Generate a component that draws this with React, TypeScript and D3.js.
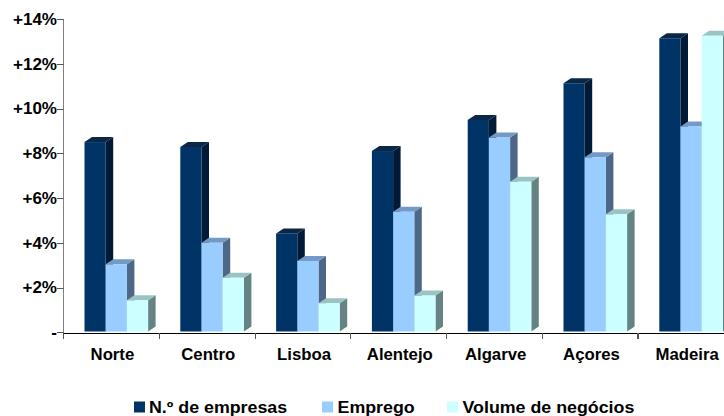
import React from "react";
import * as d3 from "d3";

const categories = ["Norte", "Centro", "Lisboa", "Alentejo", "Algarve", "Açores", "Madeira"];
const empresas = [8.5, 8.28, 4.42, 8.1, 9.49, 11.13, 13.14];
const emprego = [3.04, 4.0, 3.19, 5.39, 8.7, 7.82, 9.2];
const volume = [1.43, 2.44, 1.3, 1.64, 6.73, 5.27, 13.25];
const yTicks = [0, 2, 4, 6, 8, 10, 12, 14];
const seriesNames = ["N.º de empresas", "Emprego", "Volume de negócios"];

const W = 724;
const H = 416;
const FONT = "'Liberation Sans', Arial, sans-serif";

const colors = [
  { front: "#003366", side: "#011a35", top: "#0b2747" },
  { front: "#99ccff", side: "#4e6787", top: "#7399c6" },
  { front: "#ccffff", side: "#658383", top: "#9ac3c3" },
];

export default function App() {
  const y = d3.scaleLinear().domain([0, 14]).range([332.3, 19]);
  const x = d3.scaleBand<string>().domain(categories).range([63, 63 + 7 * 95.8]);
  const barOffset = 21.5;
  const barW = 21.2;
  const dx = 7.5;
  const dy = 5;
  const base = y(0) - 0.8;
  const series = [empresas, emprego, volume];

  const bars: JSX.Element[] = [];
  categories.forEach((c, ci) => {
    series.forEach((s, si) => {
      const x0 = (x(c) as number) + barOffset + si * barW;
      const x1 = x0 + barW;
      const yt = y(s[ci]);
      const col = colors[si];
      bars.push(
        <g key={`${ci}-${si}`}>
          <polygon
            points={`${x1},${yt} ${x1 + dx},${yt - dy} ${x1 + dx},${base - dy} ${x1},${base}`}
            fill={col.side}
          />
          <polygon
            points={`${x0},${yt} ${x0 + dx},${yt - dy} ${x1 + dx},${yt - dy} ${x1},${yt}`}
            fill={col.top}
          />
          <rect x={x0} y={yt} width={barW} height={base - yt} fill={col.front} />
        </g>
      );
    });
  });

  const legendItems = [
    { sq: 134, tx: 149 },
    { sq: 322, tx: 337.5 },
    { sq: 447, tx: 462.5 },
  ];

  return (
    <svg width={W} height={H} style={{ position: "absolute", left: 0, top: 0, background: "#fff" }}>
      <rect x={0} y={0} width={W} height={H} fill="#fff" />
      {bars}
      {/* y axis */}
      <line x1={63.5} x2={63.5} y1={19} y2={333} stroke="#808080" strokeWidth={1} />
      {yTicks.map((t) => (
        <g key={t}>
          <line x1={57} x2={63.5} y1={Math.round(y(t)) + 0.5} y2={Math.round(y(t)) + 0.5} stroke="#555" />
          <text
            transform={`translate(57,${y(t) + 5.8}) scale(1.066,1)`}
            textAnchor="end"
            fontFamily={FONT}
            fontWeight="bold"
            fontSize={16}
            fill="#000"
          >
            {t === 0 ? "-" : `+${t}%`}
          </text>
        </g>
      ))}
      {/* x axis */}
      <line x1={63} x2={W} y1={333.5} y2={333.5} stroke="#000" strokeWidth={1} />
      {categories.map((c, i) => (
        <line
          key={`t${i}`}
          x1={Math.round(x(c) as number) + 0.5}
          x2={Math.round(x(c) as number) + 0.5}
          y1={333}
          y2={339}
          stroke="#555"
        />
      ))}
      <line x1={637.5} x2={637.5} y1={333} y2={339} stroke="#555" />
      {categories.map((c) => (
        <text
          key={c}
          transform={`translate(${(x(c) as number) + x.bandwidth() / 2 + 1.5},359.8) scale(1.046,1)`}
          textAnchor="middle"
          fontFamily={FONT}
          fontWeight="bold"
          fontSize={16}
          fill="#000"
        >
          {c}
        </text>
      ))}
      {/* legend */}
      {seriesNames.map((n, i) => (
        <g key={n}>
          <rect x={legendItems[i].sq} y={401.5} width={11} height={11} fill={colors[i].front} />
          <text
            transform={`translate(${legendItems[i].tx},412.8) scale(1.114,1)`}
            fontFamily={FONT}
            fontWeight="bold"
            fontSize={16}
            fill="#000"
          >
            {n}
          </text>
        </g>
      ))}
    </svg>
  );
}
